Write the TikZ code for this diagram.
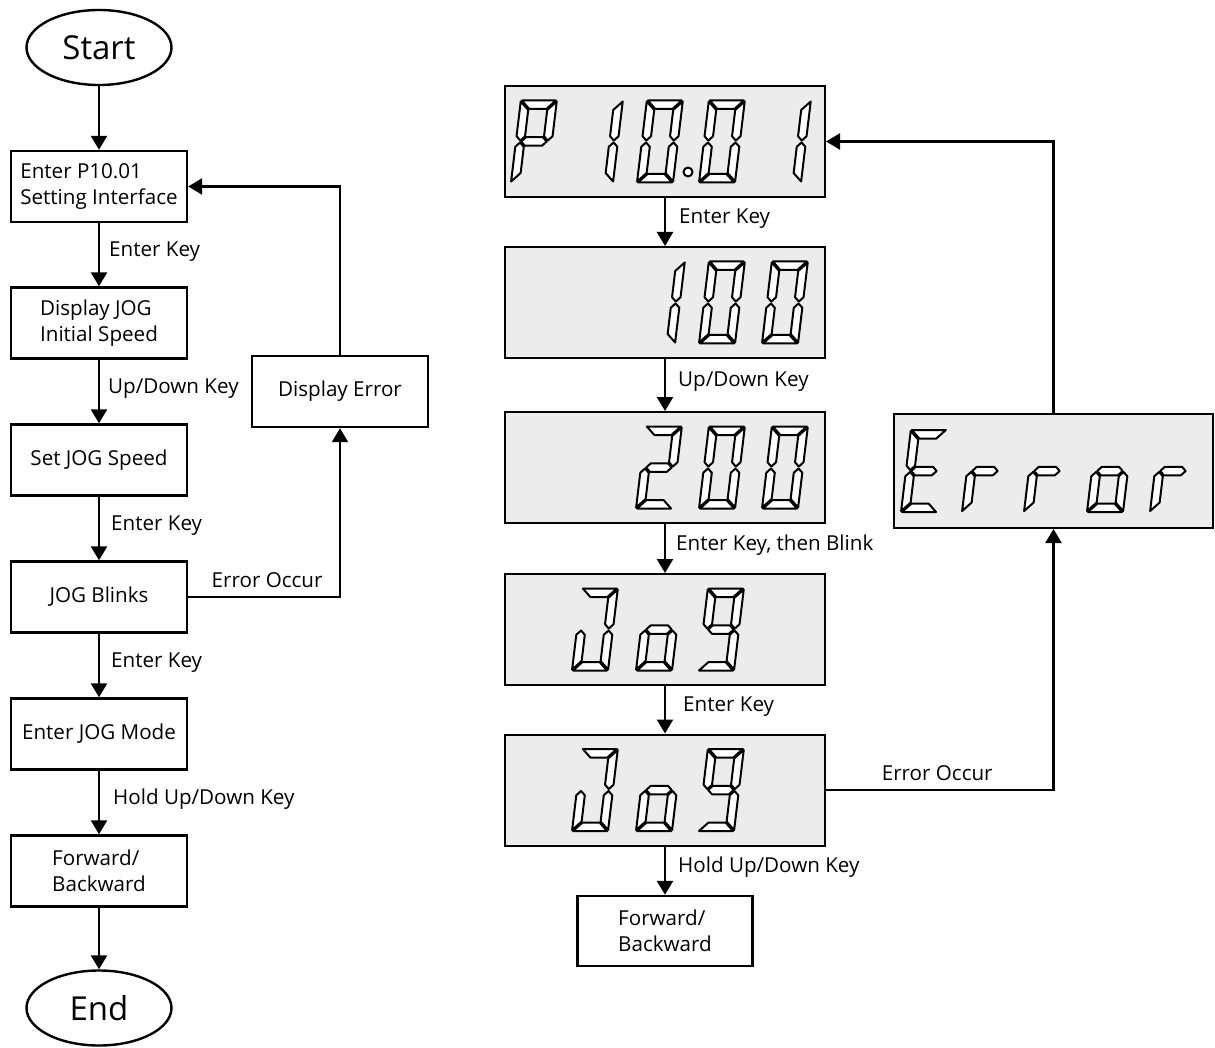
\documentclass[tikz,border=0pt]{standalone}
\usepackage{fontspec}
\setmainfont{Open Sans}
\usetikzlibrary{arrows.meta,shapes.geometric}

% Seven-segment display segments (local units: digit 36 wide, 82 high, y up)
\tikzset{
  seg/.style={fill=white,draw=black,line width=2pt,line join=round},
  sega/.pic={\path[seg] (1,82)--(35,82)--(26.5,73.5)--(9.5,73.5)--cycle;},
  segd/.pic={\path[seg] (1,0)--(35,0)--(26.5,8.5)--(9.5,8.5)--cycle;},
  segg/.pic={\path[seg] (5.25,41)--(9.5,45.25)--(26.5,45.25)--(30.75,41)--(26.5,36.75)--(9.5,36.75)--cycle;},
  segf/.pic={\path[seg] (0,81)--(8.5,72.5)--(8.5,46.25)--(4.25,42)--(0,46.25)--cycle;},
  sege/.pic={\path[seg] (0,1)--(8.5,9.5)--(8.5,35.75)--(4.25,40)--(0,35.75)--cycle;},
  segb/.pic={\path[seg] (36,81)--(27.5,72.5)--(27.5,46.25)--(31.75,42)--(36,46.25)--cycle;},
  segc/.pic={\path[seg] (36,1)--(27.5,9.5)--(27.5,35.75)--(31.75,40)--(36,35.75)--cycle;},
}

% \sevenseg{x}{baseline y}{lit segments}
\newcommand\sevenseg[3]{%
  \begin{scope}[shift={(#1,#2)},x=1pt,y=1pt,xslant=0.12]
    \foreach \s in {#3} {\pic[transform shape] {seg\s};}
  \end{scope}}

\begin{document}
\begin{tikzpicture}[x=1pt,y=-1pt,
  box/.style={draw,line width=2.4pt,minimum width=176pt,minimum height=71pt,inner sep=2pt,align=left,
    font=\fontsize{20.6}{25.5}\selectfont},
  term/.style={ellipse,draw,line width=2.4pt,minimum width=145pt,minimum height=75pt,inner sep=0pt,
    font=\fontsize{33}{36}\selectfont},
  disp/.style={draw,line width=2pt,fill=gray!15,minimum width=320pt,minimum height=111pt,inner sep=0pt},
  arr/.style={line width=2.4pt,-{Triangle[length=14pt,width=16pt]}},
  lbl/.style={font=\fontsize{20.6}{25.5}\selectfont,inner sep=0pt,anchor=base west,midway,yshift=-1.5pt},
  eo/.style={font=\fontsize{20.6}{25.5}\selectfont,inner sep=0pt,anchor=base,yshift=10pt},
]
\useasboundingbox (0,0) rectangle (1215,1048);

% ---- Left: flow chart of the procedure
\node[term] (start) at (99,47.5) {Start};
\node[box] (b1) at (99,186.5) {Enter P10.01\\Setting Interface};
\node[box] (b2) at (99,323) {Display JOG\\Initial Speed};
\node[box] (b3) at (99,460) {Set JOG Speed};
\node[box] (b4) at (99,597) {JOG Blinks};
\node[box] (b5) at (99,734) {Enter JOG Mode};
\node[box] (b6) at (99,871) {Forward/\\Backward};
\node[term] (end) at (99,1008) {End};
\node[box] (err) at (340,391.5) {Display Error};

\draw[arr] (start) -- (b1);
\draw[arr] (b1) -- node[lbl,xshift=9pt]{Enter Key} (b2);
\draw[arr] (b2) -- node[lbl,xshift=8pt]{Up/Down Key} (b3);
\draw[arr] (b3) -- node[lbl,xshift=11pt]{Enter Key} (b4);
\draw[arr] (b4) -- node[lbl,xshift=11pt]{Enter Key} (b5);
\draw[arr] (b5) -- node[lbl,xshift=13pt]{Hold Up/Down Key} (b6);
\draw[arr] (b6) -- (end);
\draw[arr] (b4.east) -| node[eo,pos=0.26]{Error Occur} (err.south);
\draw[arr] (err.north) |- (b1.east);

% ---- Right: panel displays
\node[disp] (d1) at (665,141.5) {};
\node[disp] (d2) at (665,302.5) {};
\node[disp] (d3) at (665,467.5) {};
\node[disp] (d4) at (665,629.5) {};
\node[disp] (d5) at (665,790) {};
\node[disp,minimum width=319pt,minimum height=114pt] (errd) at (1053.5,471) {};
\node[box,minimum width=175pt,minimum height=70pt] (fb) at (665,931) {Forward/\\Backward};

% P 10.01
\sevenseg{511}{182.5}{a,b,e,f,g}
\sevenseg{577}{182.5}{b,c}
\sevenseg{637}{182.5}{a,b,c,d,e,f}
\draw[seg] (688,172) circle (4.5pt);
\sevenseg{699}{182.5}{a,b,c,d,e,f}
\sevenseg{765}{182.5}{b,c}
% 100
\sevenseg{639}{343.5}{b,c}
\sevenseg{699}{343.5}{a,b,c,d,e,f}
\sevenseg{762}{343.5}{a,b,c,d,e,f}
% 200
\sevenseg{636}{508.5}{a,b,g,e,d}
\sevenseg{699}{508.5}{a,b,c,d,e,f}
\sevenseg{762}{508.5}{a,b,c,d,e,f}
% JoG
\sevenseg{572}{670.5}{a,b,c,d,e}
\sevenseg{636}{670.5}{c,d,e,g}
\sevenseg{698}{670.5}{a,b,c,d,f,g}
% JoG
\sevenseg{572}{831}{a,b,c,d,e}
\sevenseg{636}{831}{c,d,e,g}
\sevenseg{698}{831}{a,b,c,d,f,g}
% Error
\sevenseg{901}{512}{a,d,e,f,g}
\sevenseg{962}{512}{e,g}
\sevenseg{1024}{512}{e,g}
\sevenseg{1087}{512}{c,d,e,g}
\sevenseg{1150}{512}{e,g}

\draw[arr] (d1) -- node[lbl,xshift=13pt]{Enter Key} (d2);
\draw[arr] (d2) -- node[lbl,xshift=12pt]{Up/Down Key} (d3);
\draw[arr] (d3) -- node[lbl,xshift=10pt]{Enter Key, then Blink} (d4);
\draw[arr] (d4) -- node[lbl,xshift=17pt]{Enter Key} (d5);
\draw[arr] (d5) -- node[lbl,xshift=12pt]{Hold Up/Down Key} (fb);
\draw[arr] (d5.east) -| node[eo,pos=0.2445]{Error Occur} (errd.south);
\draw[arr] (errd.north) |- (d1.east);
\end{tikzpicture}
\end{document}
